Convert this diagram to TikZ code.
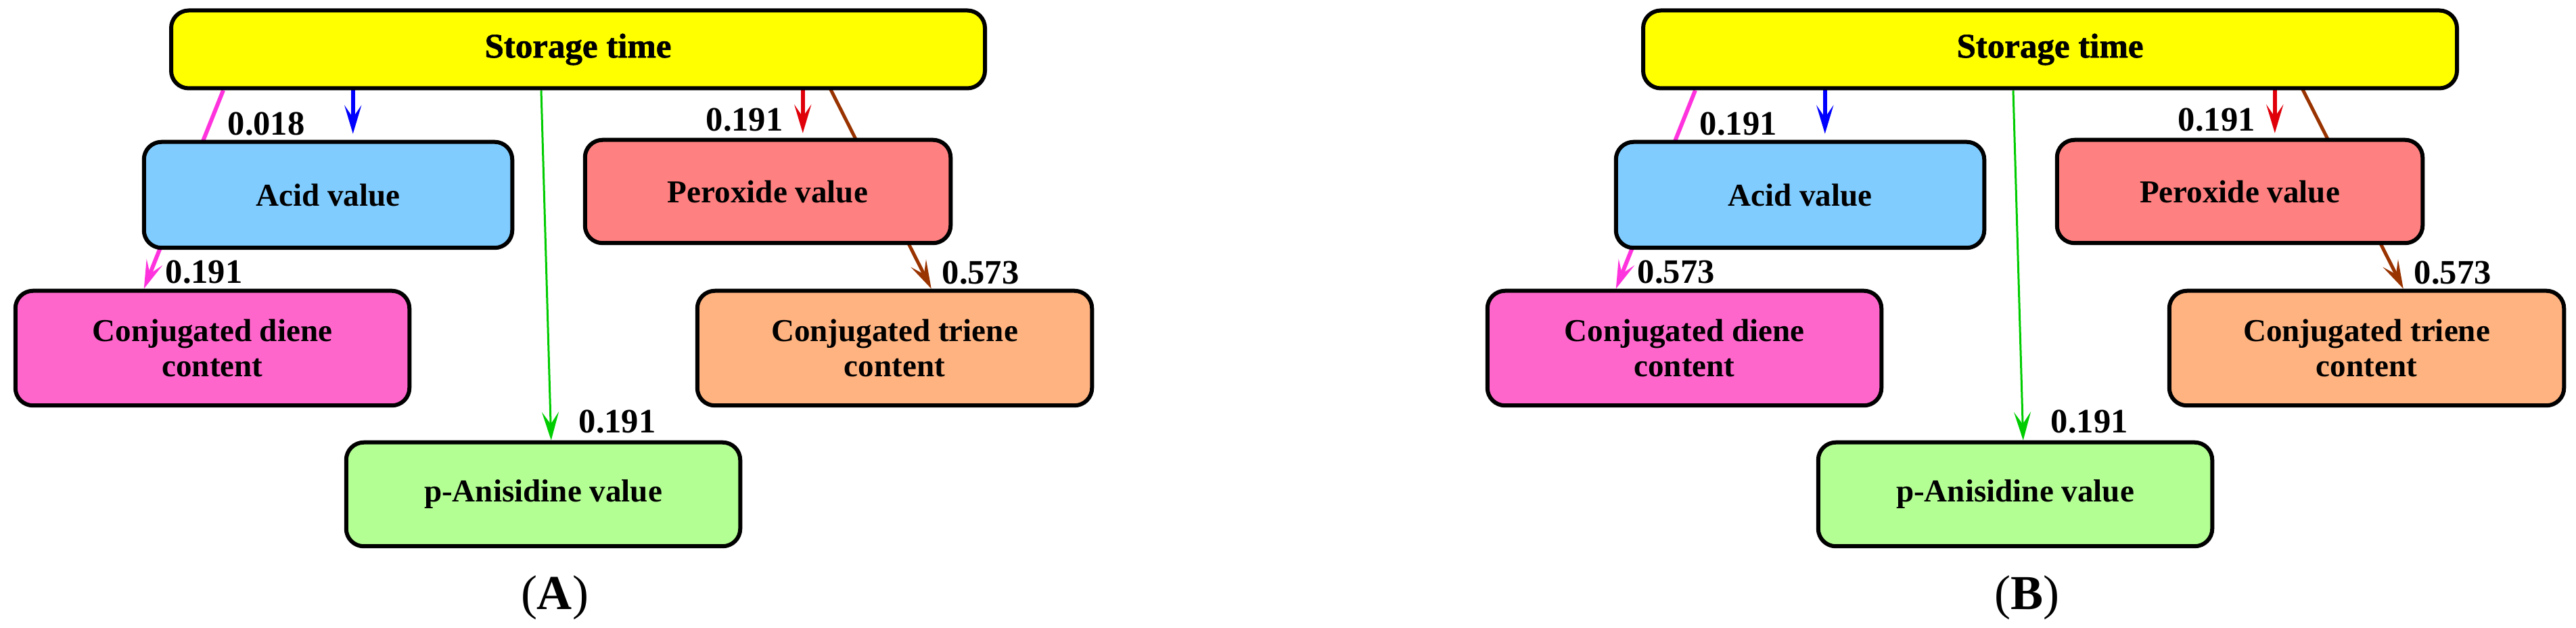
\documentclass[tikz,border=0pt]{standalone}
\usepackage{fontspec}
\setmainfont{Liberation Serif}
\newfontfamily\heavyfont{Liberation Serif Bold}[FakeBold=1.2]
\usetikzlibrary{arrows.meta,backgrounds}

\definecolor{stcol}{RGB}{255,255,0}
\definecolor{acidcol}{RGB}{128,204,255}
\definecolor{peroxcol}{RGB}{255,128,128}
\definecolor{dienecol}{RGB}{255,102,204}
\definecolor{trienecol}{RGB}{255,179,128}
\definecolor{aniscol}{RGB}{180,255,148}
\definecolor{pinkline}{RGB}{255,51,221}
\definecolor{blueline}{RGB}{0,0,255}
\definecolor{greenline}{RGB}{0,204,0}
\definecolor{redline}{RGB}{224,0,10}
\definecolor{brownline}{RGB}{153,51,0}

\tikzset{
	box/.style={draw=black, line width=0.06cm, rounded corners=0.26cm, align=center,
		font=\bfseries\fontsize{13.4}{15}\selectfont},
	num/.style={anchor=base west, inner sep=0, font=\bfseries\fontsize{14.4}{16}\selectfont},
	con/.style={-{Stealth[length=0.42cm,width=0.25cm,inset=0.18cm]}},
}

\begin{document}
\begin{tikzpicture}
		\useasboundingbox (0,0) rectangle (38.08,-9.28);
		\foreach \s/\dx/\pa/\pb in {A/0/0.018/0.191, B/21.76/0.191/0.573} {
			\node[box, fill=stcol, minimum width=12.03cm, minimum height=1.15cm,
				font=\heavyfont\fontsize{14.5}{16}\selectfont] (st\s) at (\dx+8.545, -0.73) {Storage time};
			\node[box, fill=acidcol, minimum width=5.445cm, minimum height=1.565cm] (acid\s) at (\dx+4.85, -2.88) {Acid value};
			\node[box, fill=peroxcol, minimum width=5.405cm, minimum height=1.525cm] (perox\s) at (\dx+11.35, -2.83) {Peroxide value};
			\node[box, fill=dienecol, minimum width=5.825cm, minimum height=1.695cm] (diene\s) at (\dx+3.14, -5.145) {Conjugated diene\\content};
			\node[box, fill=trienecol, minimum width=5.835cm, minimum height=1.695cm] (triene\s) at (\dx+13.225, -5.145) {Conjugated triene\\content};
			\node[box, fill=aniscol, minimum width=5.825cm, minimum height=1.535cm] (anis\s) at (\dx+8.03, -7.305) {p-Anisidine value};

			\coordinate (acidin\s) at ([xshift=3.12cm, yshift=0.09cm]acid\s.north west);
			\coordinate (peroxin\s) at ([xshift=3.25cm, yshift=0.07cm]perox\s.north west);

			\begin{scope}[on background layer]
				\draw[con, pinkline, line width=0.06cm] ([xshift=0.8cm]st\s.south west) -- ([xshift=1.93cm]diene\s.north west);
				\draw[con, blueline, line width=0.055cm] (st\s.south -| acidin\s) -- (acidin\s);
				\draw[con, greenline, line width=0.03cm] ([xshift=5.5cm]st\s.south west) -- ([xshift=3.06cm]anis\s.north west);
				\draw[con, redline, line width=0.055cm] (st\s.south -| peroxin\s) -- (peroxin\s);
				\draw[con, brownline, line width=0.05cm] ([xshift=9.75cm, yshift=0.07cm]st\s.south west) -- ([xshift=3.49cm]triene\s.north west);
			\end{scope}

			\node[num] (pa\s) at (\dx+3.36, -2.00) {\pa};
			\node[num] (pb\s) at (\dx+2.44, -4.19) {\pb};
			\node[num] (gr\s) at (\dx+8.55, -6.40) {0.191};
			\node[num] (rd\s) at (\dx+10.43, -1.94) {0.191};
			\node[num] (br\s) at (\dx+13.92, -4.20) {0.573};

			\node[inner sep=0, font=\fontsize{20.5}{22}\selectfont] (lab\s) at (\dx+8.2, -8.83) {(\textbf{\s})};
		}
	\end{tikzpicture}
\end{document}
